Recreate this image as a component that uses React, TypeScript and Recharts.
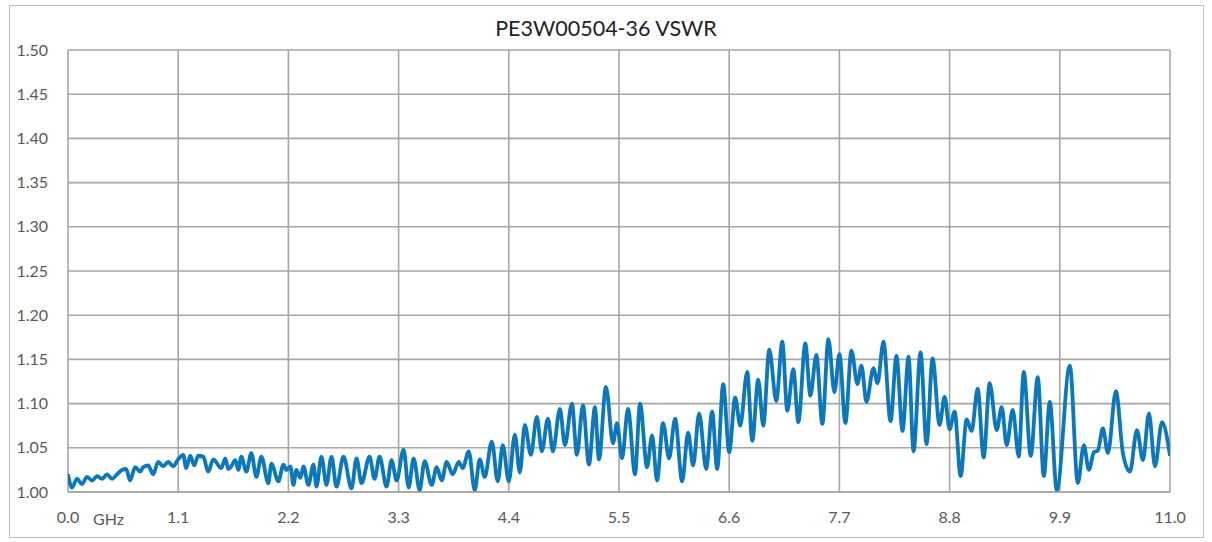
import React from 'react';
import { LineChart, Line, XAxis, YAxis, CartesianGrid } from 'recharts';

// frequency (GHz) of each read-off extreme point
const freqGHz = [
  0.0, 0.04, 0.09, 0.14, 0.19, 0.24, 0.29, 0.34, 0.39, 0.44, 0.49, 0.54, 0.58, 0.62, 0.67, 0.72, 0.75, 0.8, 0.85, 0.9, 0.95, 1.0, 1.05, 1.1,
  1.15, 1.18, 1.22, 1.26, 1.3, 1.35, 1.4, 1.45, 1.53, 1.57, 1.6, 1.63, 1.67, 1.7, 1.73, 1.78, 1.83, 1.88, 1.93, 2.0, 2.03, 2.1, 2.15, 2.18,
  2.22, 2.25, 2.28, 2.32, 2.35, 2.4, 2.45, 2.48, 2.53, 2.58, 2.63, 2.68, 2.75, 2.83, 2.88, 2.93, 3.01, 3.06, 3.11, 3.18, 3.23, 3.28,
  3.35, 3.4, 3.45, 3.51, 3.56, 3.63, 3.68, 3.73, 3.78, 3.84, 3.9, 3.94, 4.0, 4.06, 4.11, 4.16, 4.23, 4.29, 4.34, 4.4,
  4.46, 4.51, 4.56, 4.62, 4.68, 4.73, 4.79, 4.84, 4.91, 4.96, 5.03, 5.08, 5.14, 5.2, 5.26, 5.3, 5.37, 5.44, 5.48, 5.53,
  5.59, 5.66, 5.71, 5.78, 5.83, 5.88, 5.94, 6.0, 6.06, 6.13, 6.19, 6.24, 6.3, 6.37, 6.43, 6.48, 6.54, 6.6, 6.66, 6.71,
  6.78, 6.83, 6.89, 6.94, 7.0, 7.07, 7.13, 7.18, 7.24, 7.29, 7.36, 7.41, 7.47, 7.53, 7.59, 7.65, 7.7, 7.76, 7.82, 7.88,
  7.92, 7.97, 8.04, 8.08, 8.14, 8.21, 8.27, 8.33, 8.39, 8.44, 8.51, 8.57, 8.63, 8.7, 8.75, 8.8, 8.85, 8.91, 8.97, 9.02,
  9.08, 9.14, 9.2, 9.27, 9.32, 9.37, 9.43, 9.49, 9.54, 9.61, 9.68, 9.74, 9.8, 9.87, 10.0, 10.08, 10.14, 10.19, 10.24, 10.28,
  10.33, 10.38, 10.46, 10.53, 10.6, 10.67, 10.73, 10.79, 10.85, 10.92, 11.0,
];

const vswr = [
  1.020, 1.005, 1.015, 1.009, 1.017, 1.013, 1.018, 1.015, 1.020, 1.015, 1.020, 1.025, 1.026, 1.013, 1.028, 1.023, 1.028, 1.030, 1.020, 1.034, 1.029, 1.034, 1.029, 1.037,
  1.042, 1.027, 1.041, 1.030, 1.041, 1.040, 1.023, 1.037, 1.027, 1.038, 1.026, 1.029, 1.036, 1.025, 1.040, 1.023, 1.044, 1.017, 1.040, 1.010, 1.032, 1.012, 1.031, 1.025,
  1.029, 1.008, 1.025, 1.016, 1.029, 1.008, 1.031, 1.006, 1.040, 1.008, 1.040, 1.006, 1.040, 1.004, 1.038, 1.010, 1.040, 1.015, 1.040, 1.006, 1.036, 1.013,
  1.048, 1.005, 1.038, 1.002, 1.035, 1.008, 1.028, 1.013, 1.034, 1.020, 1.034, 1.027, 1.046, 1.002, 1.037, 1.017, 1.057, 1.012, 1.053, 1.012,
  1.065, 1.022, 1.076, 1.042, 1.085, 1.046, 1.083, 1.046, 1.094, 1.053, 1.100, 1.042, 1.098, 1.031, 1.096, 1.037, 1.119, 1.055, 1.078, 1.038,
  1.094, 1.020, 1.100, 1.028, 1.064, 1.013, 1.078, 1.038, 1.083, 1.012, 1.067, 1.030, 1.089, 1.026, 1.091, 1.026, 1.122, 1.045, 1.107, 1.075,
  1.136, 1.058, 1.127, 1.075, 1.161, 1.103, 1.170, 1.092, 1.139, 1.079, 1.168, 1.109, 1.155, 1.077, 1.173, 1.113, 1.156, 1.078, 1.160, 1.122,
  1.143, 1.102, 1.140, 1.123, 1.170, 1.080, 1.154, 1.069, 1.153, 1.046, 1.158, 1.054, 1.151, 1.076, 1.108, 1.071, 1.091, 1.018, 1.082, 1.069,
  1.117, 1.039, 1.123, 1.070, 1.096, 1.053, 1.093, 1.040, 1.136, 1.041, 1.130, 1.018, 1.102, 1.002, 1.143, 1.010, 1.053, 1.025, 1.045, 1.047,
  1.072, 1.044, 1.114, 1.044, 1.023, 1.070, 1.036, 1.089, 1.029, 1.079, 1.041,
];

const xTicks = [0, 1.1, 2.2, 3.3, 4.4, 5.5, 6.6, 7.7, 8.8, 9.9, 11.0];
const yTicks = [1.0, 1.05, 1.1, 1.15, 1.2, 1.25, 1.3, 1.35, 1.4, 1.45, 1.5];

const chartTitle = 'PE3W00504-36 VSWR';
const unitLabel = 'GHz';

const data = freqGHz.map((f, i) => ({ f, v: vswr[i] }));

const FONT = 'Lato, "Open Sans", sans-serif';

export default function App() {
  return (
    <div style={{ position: 'absolute', left: 0, top: 0, width: 1212, height: 542, background: '#fff', fontFamily: FONT }}>
      <div style={{ position: 'absolute', left: 9, top: 5, width: 1193, height: 531, border: '1px solid #bfbfbf' }} />
      <div style={{ position: 'absolute', left: 0, top: 15, width: 1212, textAlign: 'center', fontSize: 21.5, color: '#222' }}>
        {chartTitle}
      </div>
      <LineChart width={1212} height={542} data={data} margin={{ top: 50, right: 42, bottom: 20, left: 0 }}>
        <CartesianGrid stroke="#a6a6a6" strokeWidth={1.6} />
        <XAxis
          dataKey="f"
          type="number"
          domain={[0, 11]}
          ticks={xTicks}
          tickFormatter={(t: number) => t.toFixed(1)}
          height={30}
          tickSize={0}
          tickMargin={20}
          axisLine={{ stroke: '#a6a6a6', strokeWidth: 1.6 }}
          tick={{ fill: '#595959', fontSize: 16, fontFamily: FONT }}
          allowDataOverflow
        />
        <YAxis
          type="number"
          domain={[1, 1.5]}
          ticks={yTicks}
          tickFormatter={(t: number) => t.toFixed(2)}
          width={68}
          tickSize={0}
          tickMargin={20}
          axisLine={false}
          tick={{ fill: '#595959', fontSize: 16, fontFamily: FONT }}
          allowDataOverflow
        />
        <Line type="monotone" dataKey="v" stroke="#0b77bd" strokeWidth={3.8} dot={false} isAnimationActive={false} />
      </LineChart>
      <div style={{ position: 'absolute', left: 87, top: 507, padding: '2px 6px', background: '#fff', fontSize: 16, color: '#595959' }}>
        {unitLabel}
      </div>
    </div>
  );
}
